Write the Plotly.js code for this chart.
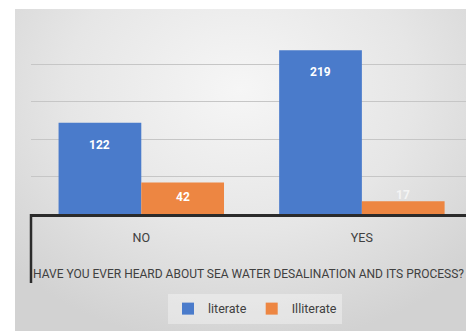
<!DOCTYPE html>
<html>
<head>
<meta charset="utf-8">
<script src="https://cdn.plot.ly/plotly-3.0.1.min.js"></script>
<style>
  html, body { margin: 0; padding: 0; background: #ffffff; }
  #wrap { position: relative; width: 466px; height: 331px; overflow: hidden; }
  #bg {
    position: absolute; left: 15px; top: 9px; width: 451px; height: 322px;
    background: radial-gradient(ellipse 70% 80% at 50% 25%, #f6f6f6 0%, #e6e6e6 55%, #d2d2d2 100%);
  }
  #chart { position: absolute; left: 0; top: 0; width: 466px; height: 331px; }
</style>
</head>
<body>
<div id="wrap">
  <div id="bg"></div>
  <div id="chart"></div>
</div>
<script>
// Survey answers grouped by literacy
const categories = ['NO', 'YES'];
const literate = [122, 219];
const illiterate = [42, 17];
const seriesNames = ['literate', 'Illiterate'];
const axisTitle = 'HAVE YOU EVER HEARD ABOUT SEA WATER DESALINATION AND ITS PROCESS?';

const FONT = 'Roboto, "DejaVu Sans", sans-serif';
const BLUE = '#4a7bcb';
const ORANGE = '#ed8642';
const BARGAP = 0.25;

const series = [
  { name: seriesNames[0], values: literate, color: BLUE },
  { name: seriesNames[1], values: illiterate, color: ORANGE }
];

const traces = series.map(s => ({
  type: 'bar', name: s.name, x: categories, y: s.values,
  marker: { color: s.color }, hoverinfo: 'skip'
}));

// Value labels sit just inside the top of each bar; very short bars
// carry the label just above them.
const groupWidth = 1 - BARGAP;
const barWidth = groupWidth / series.length;
const annotations = [];
series.forEach((s, k) => {
  const offset = -groupWidth / 2 + barWidth * (k + 0.5);
  s.values.forEach((v, i) => {
    let shift;
    if (v >= 60) shift = -22;
    else if (v >= 30) shift = -14;
    else shift = 6;
    annotations.push({
      x: i + offset, y: v, xref: 'x', yref: 'y',
      text: String(v), showarrow: false, yshift: shift,
      font: { family: FONT, size: 12, color: v >= 30 ? '#ffffff' : '#f4f4f4', weight: 'bold' }
    });
  });
});

const layout = {
  width: 466, height: 331,
  margin: { l: 31, r: 0, t: 27, b: 117, pad: 0 },
  paper_bgcolor: 'rgba(0,0,0,0)',
  plot_bgcolor: 'rgba(0,0,0,0)',
  barmode: 'group', bargap: BARGAP, bargroupgap: 0,
  font: { family: FONT, size: 12, color: '#404040' },
  xaxis: {
    type: 'category', range: [-0.5, 1.472], fixedrange: true,
    showline: true, linecolor: '#2b2b2b', linewidth: 2.5,
    ticks: '', showgrid: false, zeroline: false,
    tickfont: { family: FONT, size: 12.5, color: '#404040' },
    ticklabelstandoff: 10,
    title: { text: axisTitle, font: { family: FONT, size: 12, color: '#404040' }, standoff: 26 }
  },
  yaxis: {
    range: [0, 250], dtick: 50, fixedrange: true,
    showticklabels: false, ticks: '',
    showgrid: true, gridcolor: '#c6c6c6', gridwidth: 1,
    zeroline: false, showline: false
  },
  annotations: annotations,
  shapes: [
    { type: 'line', xref: 'paper', yref: 'paper', x0: 0, x1: 0, y0: 0, y1: -0.369,
      line: { color: '#2b2b2b', width: 2.5 } }
  ],
  showlegend: true,
  legend: {
    orientation: 'h', x: 0.515, xanchor: 'center', y: -0.508, yanchor: 'middle',
    bgcolor: 'rgba(255,255,255,0.35)', borderwidth: 0,
    font: { family: FONT, size: 12.5, color: '#404040' },
    itemwidth: 30
  }
};

Plotly.newPlot('chart', traces, layout, { displayModeBar: false, staticPlot: true });
</script>
</body>
</html>
